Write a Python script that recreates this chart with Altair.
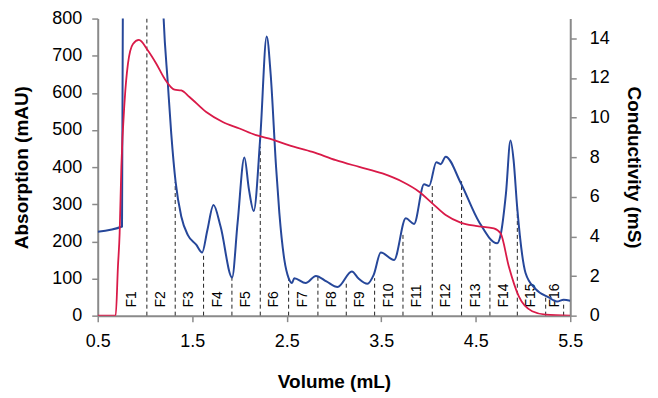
import altair as alt
import pandas as pd

# Absorption (mAU) trace
abs_vol = [0.50, 0.757, 0.767, 0.80, 1.15, 1.197, 1.242, 1.278, 1.324, 1.384, 1.454, 1.542, 1.605,
           1.66, 1.725, 1.80, 1.922, 1.98, 2.052, 2.10, 2.151, 2.22, 2.288, 2.33, 2.387, 2.422, 2.475,
           2.52, 2.556, 2.58, 2.70, 2.809, 2.92, 3.038, 3.189, 3.26, 3.354, 3.42, 3.496, 3.636, 3.76,
           3.847, 3.953, 4.006, 4.083, 4.129, 4.182, 4.34, 4.534, 4.727, 4.763, 4.82, 4.868, 4.90,
           4.938, 5.027, 5.132, 5.273, 5.36, 5.43, 5.50]
abs_val = [226, 240, 900, 1200, 1200, 802, 625, 490, 360, 267, 217, 191, 170,
           230, 298, 240, 103, 250, 426, 340, 282, 480, 752, 650, 401, 276, 150,
           101, 88, 101, 88, 107, 92, 77, 119, 100, 86, 110, 170, 150, 262,
           247, 354, 349, 413, 408, 428, 358, 253, 195, 217, 330, 472, 420,
           293, 115, 72, 49, 38, 43, 40]

# Conductivity (mS) trace
cond_vol = [0.50, 0.69, 0.714, 0.732, 0.75, 0.785, 0.82, 0.873, 0.936, 1.031, 1.12, 1.208, 1.313,
            1.384, 1.471, 1.648, 1.823, 2.0, 2.176, 2.351, 2.52, 2.773, 3.02, 3.267, 3.513, 3.724,
            3.9, 4.041, 4.182, 4.34, 4.499, 4.692, 4.763, 4.85, 4.956, 5.097, 5.24, 5.50]
cond_val = [0.0, 0.0, 2.48, 4.16, 7.5, 10.87, 12.72, 13.72, 13.92, 13.39, 12.72, 11.96, 11.41,
            11.37, 11.04, 10.28, 9.78, 9.45, 9.11, 8.89, 8.61, 8.27, 7.85, 7.51, 7.18, 6.76,
            6.26, 5.67, 5.08, 4.70, 4.53, 4.41, 4.16, 2.48, 0.97, 0.22, 0.05, 0.0]

# Fraction dividers (volume, top of dashed line in mAU)
div_vol = [1.02, 1.32, 1.62, 1.92, 2.22, 2.52, 2.83, 3.13, 3.43, 3.73, 4.04, 4.35, 4.65, 4.94, 5.24, 5.43]
div_top = [800, 360, 168, 103, 455, 101, 106, 92, 101, 225, 356, 362, 208, 290, 52, 38]

# Fraction labels
frac_names = ["F1", "F2", "F3", "F4", "F5", "F6", "F7", "F8", "F9", "F10",
              "F11", "F12", "F13", "F14", "F15", "F16"]
frac_pos = [0.86, 1.17, 1.47, 1.77, 2.07, 2.37, 2.67, 2.98, 3.28, 3.58,
            3.88, 4.19, 4.50, 4.80, 5.09, 5.34]

BLUE = "#26479a"
RED = "#d91a48"
AXIS_GREY = "#8a8a8a"
FONT = "Liberation Sans"

abs_df = pd.DataFrame({"vol": abs_vol, "val": abs_val})
cond_df = pd.DataFrame({"vol": cond_vol, "val": cond_val})
div_df = pd.DataFrame({"vol": div_vol, "top": div_top, "bottom": [0] * len(div_vol)})
lab_df = pd.DataFrame({"vol": frac_pos, "name": frac_names, "y": [22] * len(frac_pos)})

common = dict(grid=False, domainColor=AXIS_GREY, domainWidth=2, tickColor=AXIS_GREY,
              tickWidth=1.5, tickSize=6, labelFontSize=18, labelColor="black",
              titleFontSize=19, titleFontWeight="bold", titleColor="black",
              labelFont=FONT, titleFont=FONT, labelFlush=False, labelOverlap=False)

xscale = alt.Scale(domain=[0.5, 5.5], nice=False, zero=False)
xaxis = alt.Axis(title="Volume (mL)", values=[0.5, 1.5, 2.5, 3.5, 4.5, 5.5], format=".1f",
                 labelPadding=11, titlePadding=22, **common)
yscale = alt.Scale(domain=[0, 800], nice=False)
yaxis = alt.Axis(title="Absorption (mAU)", values=list(range(0, 801, 100)), orient="left",
                 labelPadding=10, titlePadding=20, **common)
y2scale = alt.Scale(domain=[0, 15], nice=False)
y2axis = alt.Axis(title="Conductivity (mS)", values=list(range(0, 15, 2)), orient="right",
                  labelPadding=13, titlePadding=14, **common)

dividers = alt.Chart(div_df).mark_rule(color="#222222", strokeDash=[4, 3], strokeWidth=1, clip=True).encode(
    x=alt.X("vol:Q", scale=xscale, axis=xaxis),
    y=alt.Y("bottom:Q", scale=yscale, axis=yaxis),
    y2="top:Q",
)

labels = alt.Chart(lab_df).mark_text(angle=270, align="left", baseline="middle",
                                     fontSize=14, font=FONT, color="black").encode(
    x=alt.X("vol:Q", scale=xscale, axis=xaxis),
    y=alt.Y("y:Q", scale=yscale, axis=yaxis),
    text="name:N",
)

blue = alt.Chart(abs_df).mark_line(color=BLUE, strokeWidth=2, clip=True, interpolate="monotone").encode(
    x=alt.X("vol:Q", scale=xscale, axis=xaxis),
    y=alt.Y("val:Q", scale=yscale, axis=yaxis),
)

red = alt.Chart(cond_df).mark_line(color=RED, strokeWidth=1.8, clip=True, interpolate="monotone").encode(
    x=alt.X("vol:Q", scale=xscale, axis=xaxis),
    y=alt.Y("val:Q", scale=y2scale, axis=y2axis),
)

left = alt.layer(dividers, labels, blue)
chart = alt.layer(left, red).resolve_scale(y="independent").properties(
    width=474, height=298,
    autosize=alt.AutoSizeParams(type="none"),
    padding={"left": 90, "top": 10, "right": 80, "bottom": 80},
).configure_view(stroke=None)

chart.save("out.html", embed_options={"renderer": "svg", "actions": False})
